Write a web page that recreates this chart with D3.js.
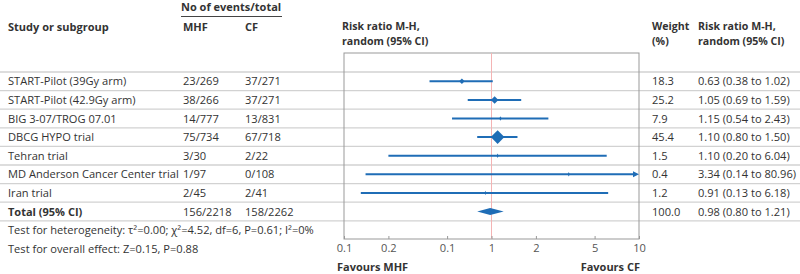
<!DOCTYPE html>
<html>
<head>
<meta charset="utf-8">
<script src="https://cdn.jsdelivr.net/npm/d3@7"></script>
<style>
  body { margin: 0; background: #fff; }
  svg { font-family: "Open Sans", "Noto Sans", sans-serif; }
</style>
</head>
<body>
<div id="chart"></div>
<script>
// forest plot data
var studies = ["START-Pilot (39Gy arm)", "START-Pilot (42.9Gy arm)", "BIG 3-07/TROG 07.01",
    "DBCG HYPO trial", "Tehran trial", "MD Anderson Cancer Center trial", "Iran trial", "Total (95% CI)"];
var mhfEvents = ["23/269", "38/266", "14/777", "75/734", "3/30", "1/97", "2/45", "156/2218"];
var cfEvents = ["37/271", "37/271", "13/831", "67/718", "2/22", "0/108", "2/41", "158/2262"];
var weights = [18.3, 25.2, 7.9, 45.4, 1.5, 0.4, 1.2, 100.0];
var ratios = [0.63, 1.05, 1.15, 1.10, 1.10, 3.34, 0.91, 0.98];
var lower = [0.38, 0.69, 0.54, 0.80, 0.20, 0.14, 0.13, 0.80];
var upper = [1.02, 1.59, 2.43, 1.50, 6.04, 80.96, 6.18, 1.21];
var tickValues = [0.1, 0.2, 0.5, 1, 2, 5, 10];
var tickLabels = ["0.1", "0.2", "0.1", "1", "2", "5", "10"];

var width = 800, height = 274;
var textColor = "#333";
var blue = "#1f6db6";
var fs = 11.1;     // body text
var fsBold = 10.6; // headers

var svg = d3.select("#chart").append("svg")
    .attr("width", width)
    .attr("height", height);

var y = d3.scaleBand().domain(studies).range([72, 72 + 18.6 * studies.length]);
var x = d3.scaleLog().domain([0.1, 10]).range([344, 639]);
var plotTop = 53, plotBottom = 239;

// row separators
svg.append("g").selectAll("line")
    .data(studies.concat(["__end"]))
    .enter().append("line")
    .attr("x1", 0).attr("x2", width)
    .attr("y1", function (d, i) { return 72 + y.bandwidth() * i; })
    .attr("y2", function (d, i) { return 72 + y.bandwidth() * i; })
    .attr("stroke", "#d2d2d2")
    .attr("stroke-width", 1.3);

// plot box
svg.append("rect")
    .attr("x", x(0.1)).attr("y", plotTop)
    .attr("width", x(10) - x(0.1)).attr("height", plotBottom - plotTop)
    .attr("fill", "none").attr("stroke", "#999").attr("stroke-width", 1);

// line of no effect
svg.append("line")
    .attr("x1", x(1)).attr("x2", x(1))
    .attr("y1", plotTop).attr("y2", plotBottom)
    .attr("stroke", "#f4b4b4").attr("stroke-width", 1);

// x-axis
var xAxis = d3.axisBottom(x)
    .tickValues(tickValues)
    .tickSize(-3)
    .tickPadding(5)
    .tickFormat(function (d, i) { return tickLabels[i]; });
var axisG = svg.append("g")
    .attr("transform", "translate(0," + plotBottom + ")")
    .call(xAxis);
axisG.select(".domain").remove();
axisG.selectAll(".tick line").attr("stroke", "#999");
axisG.selectAll(".tick text")
    .attr("fill", "#555")
    .style("font-size", fs + "px")
    .style("font-family", "'Open Sans', sans-serif");

// CI lines
var studyIdx = d3.range(studies.length - 1);
var cx = function (i) { return y(studies[i]) + y.bandwidth() / 2; };

svg.append("g").selectAll("line")
    .data(studyIdx)
    .enter().append("line")
    .attr("x1", function (i) { return x(Math.max(lower[i], 0.1)); })
    .attr("x2", function (i) { return upper[i] > 10 ? x(10) - 4 : x(upper[i]); })
    .attr("y1", cx).attr("y2", cx)
    .attr("stroke", blue).attr("stroke-width", 2);

// arrow for truncated CI
svg.append("g").selectAll("path")
    .data(studyIdx.filter(function (i) { return upper[i] > 10; }))
    .enter().append("path")
    .attr("d", function (i) {
        var xe = x(10), yc = cx(i);
        return "M" + (xe - 6) + "," + (yc - 3) + "L" + xe + "," + yc + "L" + (xe - 6) + "," + (yc + 3) + "Z";
    })
    .attr("fill", blue);

// study markers (diamonds sized by weight)
var sz = d3.scaleLinear().domain([0, 45.4]).range([0, 6.8]);
svg.append("g").selectAll("path")
    .data(studyIdx)
    .enter().append("path")
    .attr("d", function (i) {
        var xc = x(ratios[i]), yc = cx(i);
        var hw = Math.max(1, sz(weights[i])), hh = Math.max(2.2, sz(weights[i]));
        return "M" + (xc - hw) + "," + yc + "L" + xc + "," + (yc - hh) + "L" + (xc + hw) + "," + yc + "L" + xc + "," + (yc + hh) + "Z";
    })
    .attr("fill", blue);

// pooled estimate diamond
var ti = studies.length - 1;
svg.append("path")
    .attr("d", "M" + x(lower[ti]) + "," + cx(ti) + "L" + x(ratios[ti]) + "," + (cx(ti) - 3.5) +
        "L" + x(upper[ti]) + "," + cx(ti) + "L" + x(ratios[ti]) + "," + (cx(ti) + 3.5) + "Z")
    .attr("fill", blue);

// table text
function addText(xp, yp, txt, opts) {
    opts = opts || {};
    return svg.append("text")
        .attr("x", xp).attr("y", yp)
        .attr("fill", opts.fill || textColor)
        .attr("text-anchor", opts.anchor || "start")
        .style("font-size", (opts.size || (opts.bold ? fsBold : fs)) + "px")
        .style("font-weight", opts.bold ? "bold" : "normal")
        .text(txt);
}

var cols = { study: 8, mhf: 183, cf: 245, weight: 652, rr: 698 };

studies.forEach(function (s, i) {
    var base = cx(i) + 4;
    var isTotal = i == studies.length - 1;
    addText(cols.study, base, s, { bold: isTotal, size: isTotal ? 11 : fs });
    addText(cols.mhf, base, mhfEvents[i]);
    addText(cols.cf, base, cfEvents[i]);
    addText(cols.weight, base, weights[i].toFixed(1));
    addText(cols.rr, base, ratios[i].toFixed(2) + " (" + lower[i].toFixed(2) + " to " + upper[i].toFixed(2) + ")");
});

// headers
addText(cols.mhf - 2, 11, "No of events/total", { bold: true, size: 11 });
svg.append("line")
    .attr("x1", 181).attr("x2", 282).attr("y1", 16.5).attr("y2", 16.5)
    .attr("stroke", "#444").attr("stroke-width", 1);
addText(cols.study, 31, "Study or subgroup", { bold: true, size: 11 });
addText(cols.mhf, 31, "MHF", { bold: true, size: 11 });
addText(cols.cf, 31, "CF", { bold: true, size: 11 });
addText(342, 30, "Risk ratio M-H,", { bold: true });
addText(342, 44.5, "random (95% CI)", { bold: true });
addText(cols.weight, 30, "Weight", { bold: true });
addText(cols.weight, 44.5, "(%)", { bold: true });
addText(cols.rr, 30, "Risk ratio M-H,", { bold: true });
addText(cols.rr, 44.5, "random (95% CI)", { bold: true });

// footer tests
addText(cols.study, 234, "Test for heterogeneity: \u03C4\u00B2=0.00; \u03C7\u00B2=4.52, df=6, P=0.61; I\u00B2=0%");
addText(cols.study, 253, "Test for overall effect: Z=0.15, P=0.88");

// favours labels
addText(337, 271, "Favours MHF", { bold: true, size: 11 });
addText(640, 271, "Favours CF", { bold: true, size: 11, anchor: "end" });
</script>
</body>
</html>
